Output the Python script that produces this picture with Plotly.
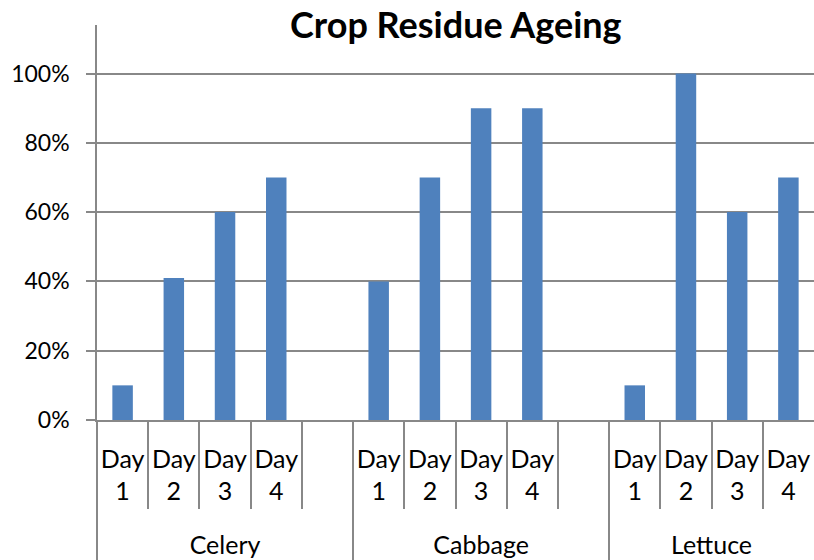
import plotly.graph_objects as go

# ---- data ----
groups = ["Celery", "Cabbage", "Lettuce"]
days = ["Day 1", "Day 2", "Day 3", "Day 4"]
celery = [0.10, 0.41, 0.60, 0.70]
cabbage = [0.40, 0.70, 0.90, 0.90]
lettuce = [0.10, 1.00, 0.60, 0.70]
y_ticks = [0, 0.2, 0.4, 0.6, 0.8, 1.0]
y_tick_labels = ["0%", "20%", "40%", "60%", "80%", "100%"]

series = [celery, cabbage, lettuce]
slots_per_group = len(days) + 1  # blank slot after each group except the last

xs, ys, day_vals, day_text = [], [], [], []
inner_bounds, group_bounds, group_centers = [], [], []
for g, vals in enumerate(series):
    start = g * slots_per_group
    n = slots_per_group if g < len(groups) - 1 else len(days)
    group_bounds.append(start - 0.5)
    group_centers.append(start + (n - 1) / 2)
    for k in range(n - 1):
        inner_bounds.append(start + k + 0.5)
    for d, v in enumerate(vals):
        xs.append(start + d)
        ys.append(v)
        day_vals.append(start + d)
        day_text.append(days[d].replace(" ", "<br>"))
x_max = xs[-1] + 0.5

FONT = "Lato"
GRID = "#888888"

fig = go.Figure()
fig.add_trace(go.Bar(x=xs, y=ys, width=0.4, marker_color="#4F81BD",
                     marker_line_width=0, showlegend=False))
fig.add_trace(go.Scatter(x=[], y=[], xaxis="x2", showlegend=False))

fig.update_layout(
    width=814, height=560,
    margin=dict(l=97, r=0, t=25, b=140),
    paper_bgcolor="white", plot_bgcolor="white",
    title=dict(text="<b>Crop Residue Ageing</b>", x=0.56, xanchor="center",
               y=0.955, yanchor="middle",
               font=dict(family=FONT, size=36, color="#000")),
    font=dict(family=FONT, size=24, color="#000"),
    xaxis=dict(range=[-0.5, x_max], tickmode="array", tickvals=day_vals,
               ticktext=day_text, ticks="", showgrid=False, zeroline=False,
               showline=True, linecolor=GRID, linewidth=1.5,
               ticklabelstandoff=16,
               tickfont=dict(family=FONT, size=25, color="#000"),
               minor=dict(tickmode="array", tickvals=inner_bounds,
                          ticks="outside", ticklen=87, tickwidth=1.5,
                          tickcolor=GRID, showgrid=False)),
    xaxis2=dict(range=[-0.5, x_max], overlaying="x", side="bottom",
                anchor="y", tickmode="array", tickvals=group_centers,
                ticktext=groups, ticks="", showgrid=False, zeroline=False,
                showline=False, ticklabelstandoff=108,
                tickfont=dict(family=FONT, size=25, color="#000"),
                minor=dict(tickmode="array", tickvals=group_bounds,
                           ticks="outside", ticklen=140, tickwidth=1.5,
                           tickcolor=GRID, showgrid=False)),
    yaxis=dict(range=[0, 1.14], tickmode="array", tickvals=y_ticks,
               ticktext=y_tick_labels, showgrid=True, gridcolor=GRID,
               gridwidth=1.5, zeroline=False, showline=True,
               linecolor=GRID, linewidth=1.5, ticks="outside", ticklen=9,
               tickwidth=1.5, tickcolor=GRID, ticklabelstandoff=12,
               tickfont=dict(family=FONT, size=23, color="#000")),
)

fig.write_html("out.html", config={"displayModeBar": False},
               post_script="document.body.style.margin='0';"
                           "document.body.style.overflow='hidden';")
